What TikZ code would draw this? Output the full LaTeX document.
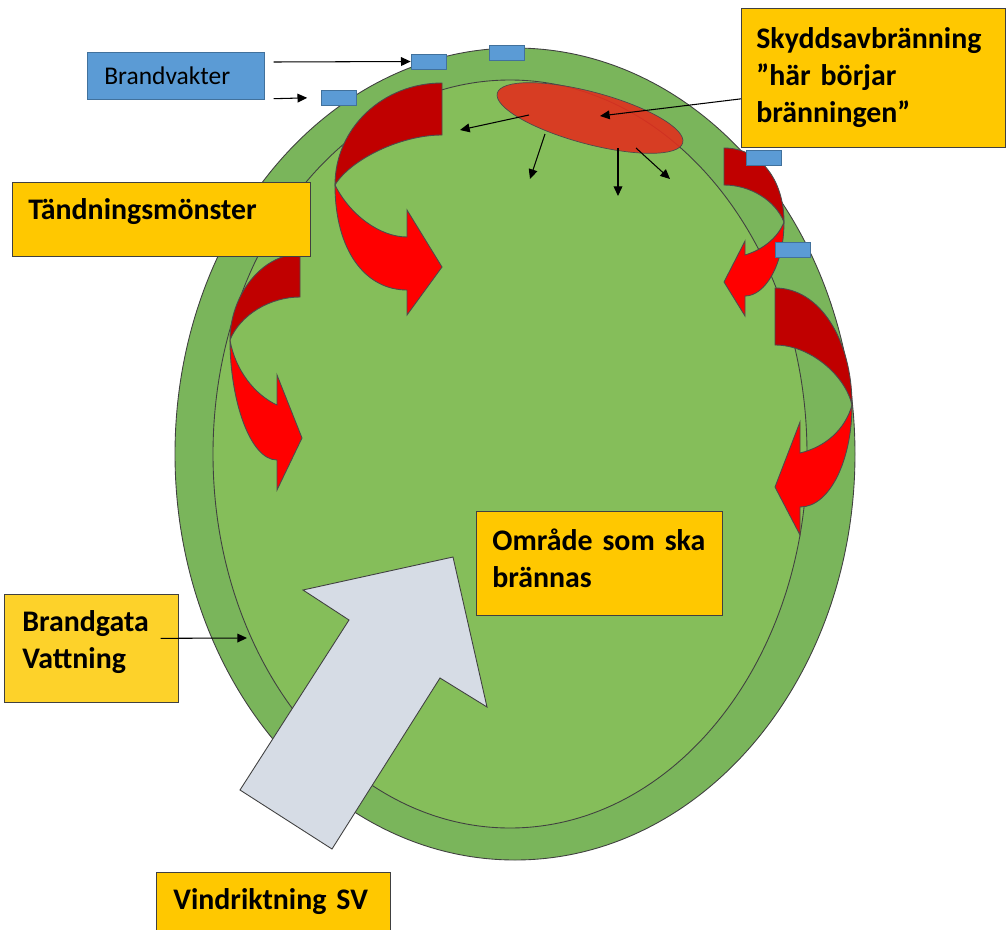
\documentclass[tikz,border=0pt]{standalone}
\usepackage{fontspec}
\setmainfont{Carlito}
\usetikzlibrary{positioning,calc,shapes.geometric,arrows.meta}

\definecolor{gold}{HTML}{FFC800}
\definecolor{lemon}{HTML}{FDD22A}
\definecolor{sky}{HTML}{5B9BD5}
\definecolor{skyline}{HTML}{41719C}
\definecolor{grass}{HTML}{85BE5A}
\definecolor{verge}{HTML}{7AB55B}
\definecolor{ember}{HTML}{C00000}
\definecolor{flame}{HTML}{FF0000}
\definecolor{blaze}{HTML}{E0301E}
\definecolor{windgrey}{HTML}{D6DCE5}

\begin{document}
\begin{tikzpicture}[x=0.02cm, y=-0.02cm,
				tag/.style={rectangle, draw=black!75, fill=gold, anchor=north west, align=left, inner xsep=0.32cm, font=\fontsize{17}{21}\selectfont\bfseries},
				guard/.style={rectangle, draw=skyline, fill=sky, minimum width=0.7cm, minimum height=0.3cm, inner sep=0pt},
				back/.style={draw=black!70, fill=ember, line width=0.5pt},
				front/.style={draw=black!70, fill=flame, line width=0.5pt},
				pil/.style={-{Triangle[length=5.5pt,width=5pt]}, line width=0.6pt}
			]
			\useasboundingbox (0,0) rectangle (1008,930);
			% brandgata and area
			\draw[fill=verge, draw=black!75, line width=0.5pt] (515,454) ellipse [x radius=340, y radius=406];
			\draw[fill=grass, draw=black!75, line width=0.5pt] (510,454) ellipse [x radius=297, y radius=374];
			% ignition arrows
			\draw[back] (442,83) .. controls (383,83) and (335,128) .. (335,185) .. controls (350,160) and (400,135) .. (442,135) -- cycle;
			\draw[front] (335,185) .. controls (335,250) and (365,290) .. (407,290) -- (407,315) -- (442,267) -- (407,210) -- (407,237) .. controls (380,237) and (350,215) .. (335,185) -- cycle;
			\draw[back] (300,254) .. controls (262,254) and (230,295) .. (230,340) .. controls (240,315) and (270,297) .. (300,297) -- cycle;
			\draw[front] (230,340) .. controls (230,400) and (250,460) .. (277,460) -- (277,490) -- (302,438) -- (277,375) -- (277,405) .. controls (255,395) and (235,370) .. (230,340) -- cycle;
			\draw[back] (724,148) .. controls (760,148) and (784,180) .. (784,222) .. controls (775,200) and (750,185) .. (724,185) -- cycle;
			\draw[front] (784,222) .. controls (784,265) and (765,296) .. (745,296) -- (745,316) -- (724,282) -- (745,241) -- (745,255) .. controls (762,250) and (778,238) .. (784,222) -- cycle;
			\draw[back] (775,288) .. controls (820,288) and (852,340) .. (852,405) .. controls (845,375) and (810,345) .. (775,345) -- cycle;
			\draw[front] (852,405) .. controls (852,460) and (830,507) .. (800,507) -- (800,535) -- (775,487) -- (800,422) -- (800,453) .. controls (825,447) and (845,430) .. (852,405) -- cycle;
			% protective burn
			\node[ellipse, draw=black!70, fill=blaze, fill opacity=0.9, minimum width=3.84cm, minimum height=1.04cm, inner sep=0pt, rotate=-15] (fire) at (590,118) {};
			\coordinate (f1) at (529,115);
			\coordinate (f2) at (545,134);
			\coordinate (f3) at (618,148);
			\coordinate (f4) at (636,148);
			\coordinate (t1) at (460,130);
			\coordinate (t2) at (530,179);
			\coordinate (t3) at (618,196);
			\coordinate (t4) at (670,179);
			\draw[pil] (f1) -- (t1);
			\draw[pil] (f2) -- (t2);
			\draw[pil] (f3) -- (t3);
			\draw[pil] (f4) -- (t4);
			% fire guards
			\node[guard] (g1) at (428.5,61.5) {};
			\node[guard] (g2) at (339,97.5) {};
			\node[guard] (g3) at (507,53) {};
			\node[guard] (g4) at (764,158) {};
			\node[guard] (g5) at (792.5,249.5) {};
			% labels
			\node[rectangle, draw=skyline, fill=sky, anchor=north west, inner xsep=0.34cm, text width=2.86cm, minimum height=0.94cm, font=\fontsize{14.5}{17}\selectfont] (brandvakter) at (87,52) {Brandvakter};
			\node[tag, text width=5.32cm, text depth=0.4cm, minimum height=1.48cm] (tandning) at (12,182) {Tändningsmönster};
			\node[tag, inner xsep=0.3cm, text width=4.68cm, minimum height=2.78cm] (skydd) at (741,8) {Skyddsavbränning\\”här börjar\\bränningen”};
			\node[tag, text width=4.28cm, text depth=0.96cm, minimum height=2.08cm] (omrade) at (476,511) {Område som ska\\brännas};
			\node[tag, fill=lemon, inner xsep=0.36cm, text width=2.76cm, text depth=1.08cm, minimum height=2.16cm] (brandgata) at (4,594) {Brandgata\\Vattning};
			\node[tag, inner xsep=0.34cm, text width=4.0cm, minimum height=1.18cm] (vind) at (156,872) {Vindriktning SV};
			\coordinate (gata) at (247,638);
			\begin{scope}[pil]
			\draw ($(brandvakter.north east)+(9,10)$) -- (g1.west);
			\draw[shorten >=2.8mm] ($(brandvakter.south east)+(9,-1)$) -- (g2.west);
			\draw ($(skydd.west)+(0,21)$) -- ($(fire.center)+(10,-2)$);
			\draw ($(brandgata.east)+(-18,-10)$) -- (gata);
			\end{scope}
			% wind direction
			\draw[fill=windgrey, draw=black!75, line width=0.5pt] (240,790) -- (349,620) -- (303,590) -- (453,557) -- (487,707) -- (440,678) -- (332,849) -- cycle;
			\end{tikzpicture}
\end{document}
